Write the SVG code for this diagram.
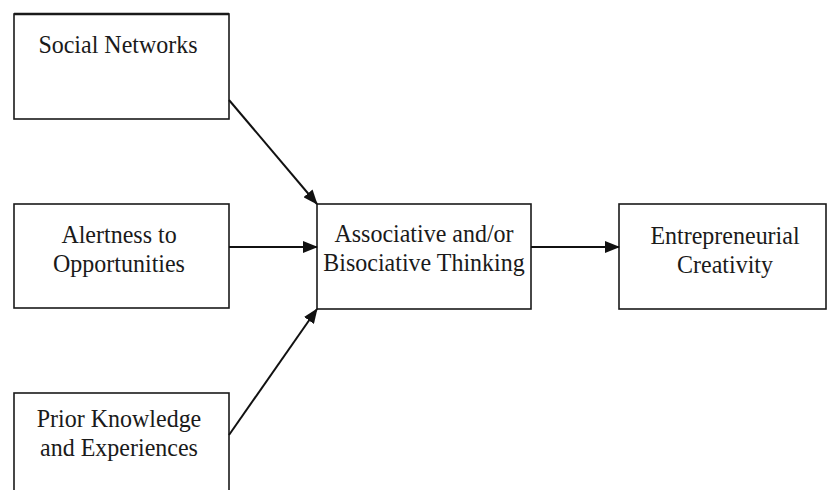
<svg xmlns="http://www.w3.org/2000/svg" width="827" height="490" viewBox="0 0 827 490">
  <style>
    .box { fill: #ffffff; stroke: #1a1a1a; stroke-width: 1.6; }
    .lbl { font-family: "Liberation Serif", "Times New Roman", serif; font-size: 24px; fill: #1a1a1a; text-anchor: middle; }
    .edge { stroke: #111111; stroke-width: 2; fill: none; marker-end: url(#arrow); }
  </style>
  <defs>
    <marker id="arrow" markerUnits="userSpaceOnUse" markerWidth="15" markerHeight="12" refX="14" refY="6" orient="auto">
      <path d="M0,0 L15,6 L0,12 z" fill="#111111"/>
    </marker>
  </defs>
  <rect width="827" height="490" fill="#ffffff"/>

  <g id="social-networks">
    <rect class="box" x="14" y="14" width="215" height="105"/>
    <line x1="14" y1="14" x2="229" y2="14" stroke="#1a1a1a" stroke-width="2.6"/>
    <text class="lbl" transform="translate(118,53) scale(1,1.05)">Social Networks</text>
  </g>

  <g id="alertness">
    <rect class="box" x="14" y="204" width="215" height="104"/>
    <text class="lbl" transform="translate(119,243) scale(1,1.05)">Alertness to</text>
    <text class="lbl" transform="translate(119,272) scale(1,1.05)">Opportunities</text>
  </g>

  <g id="prior-knowledge">
    <rect class="box" x="14" y="393" width="215" height="110"/>
    <text class="lbl" transform="translate(119,427) scale(1,1.05)">Prior Knowledge</text>
    <text class="lbl" transform="translate(119,456) scale(1,1.05)">and Experiences</text>
  </g>

  <g id="associative-thinking">
    <rect class="box" x="317" y="204" width="214" height="105"/>
    <text class="lbl" transform="translate(424,242) scale(1,1.05)">Associative and/or</text>
    <text class="lbl" transform="translate(424,271) scale(1,1.05)">Bisociative Thinking</text>
  </g>

  <g id="entrepreneurial-creativity">
    <rect class="box" x="619" y="204" width="207" height="105"/>
    <text class="lbl" transform="translate(725,244) scale(1,1.05)">Entrepreneurial</text>
    <text class="lbl" transform="translate(725,273) scale(1,1.05)">Creativity</text>
  </g>

  <g id="connectors">
    <line class="edge" x1="229" y1="100" x2="317" y2="204"/>
    <line class="edge" x1="229" y1="247" x2="317" y2="247"/>
    <line class="edge" x1="229" y1="435" x2="317" y2="309"/>
    <line class="edge" x1="531" y1="247" x2="619" y2="247"/>
  </g>
</svg>
